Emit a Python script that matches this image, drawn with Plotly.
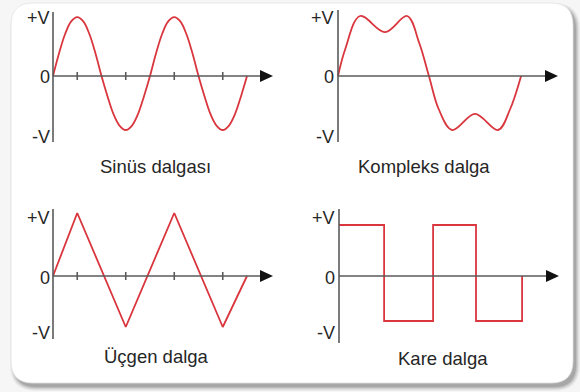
import plotly.graph_objects as go

# ---- waveform data (time in quarter-periods of the sine, voltage in units of V) ----
sine_t = [0, 0.25, 0.5, 0.75, 1, 1.25, 1.5, 1.75, 2, 2.25, 2.5, 2.75, 3, 3.25, 3.5, 3.75, 4,
          4.25, 4.5, 4.75, 5, 5.25, 5.5, 5.75, 6, 6.25, 6.5, 6.75, 7, 7.25, 7.5, 7.75, 8]
sine_v = [0, 0.38, 0.70, 0.91, 0.98, 0.91, 0.70, 0.38, 0, -0.34, -0.64, -0.83, -0.90, -0.83, -0.64, -0.34, 0,
          0.38, 0.70, 0.91, 0.98, 0.91, 0.70, 0.38, 0, -0.34, -0.64, -0.83, -0.90, -0.83, -0.64, -0.34, 0]

complex_t = [0, 0.3, 0.91, 1.94, 2.85, 3.35, 3.75, 4.15, 4.7, 5.65, 6.6, 7.1, 7.55]
complex_v = [0, 0.45, 1.0, 0.73, 1.0, 0.55, 0, -0.55, -0.9, -0.63, -0.9, -0.55, 0]

triangle_t = [0, 1, 3, 5, 7, 8]
triangle_v = [0, 1.05, -0.85, 1.05, -0.85, 0]

square_t = [0, 1.86, 3.88, 5.65, 7.55]
square_v = [0.85, -0.75, 0.85, -0.75, 0]

tick_t = [1, 3, 5, 7]
level_labels = ["+V", "0", "-V"]
titles = ["Sinüs dalgası", "Kompleks dalga", "Üçgen dalga", "Kare dalga"]

# ---- page geometry ----
W, H = 580, 392
Q = 24.25   # pixels per time unit
U = 60.0    # pixels per V

def X(px):
    return px / W

def Y(py):
    return 1 - py / H

RED = "#d9363e"
AXIS = "#5a5a5a"
TEXT = "#262626"
FONT = "Liberation Sans, Arial, sans-serif"

# panel layout: y-axis x pixel, zero-line y pixel, horizontal box, vertical box,
# vertical-axis extent (top, bottom px), label y pixels, title centre
panels = [
    dict(ax=53, zero=76, xb=(30, 290), yb=(4, 152), vext=(12, 142), lab_x=52,
         lab_y=(18, 77, 137), title=(155, 166)),
    dict(ax=338, zero=76, xb=(315, 575), yb=(4, 152), vext=(10, 142), lab_x=336,
         lab_y=(18, 77, 137), title=(424, 166)),
    dict(ax=53, zero=276, xb=(30, 290), yb=(200, 352), vext=(209, 339), lab_x=52,
         lab_y=(218, 278, 333), title=(156, 356)),
    dict(ax=339, zero=276, xb=(315, 575), yb=(200, 352), vext=(209, 343), lab_x=337,
         lab_y=(218, 278, 333), title=(443, 358)),
]

series = [
    (sine_t, sine_v, "spline"),
    (complex_t, complex_v, "spline"),
    (triangle_t, triangle_v, "linear"),
    (square_t, square_v, "hv"),
]
with_ticks = [True, False, True, False]

fig = go.Figure()
shapes = []
annotations = []
layout_axes = {}

# card background with soft drop shadow
def rounded(x0, y0, x1, y1, r):
    return (f"M {X(x0 + r)},{Y(y0)} L {X(x1 - r)},{Y(y0)} Q {X(x1)},{Y(y0)} {X(x1)},{Y(y0 + r)} "
            f"L {X(x1)},{Y(y1 - r)} Q {X(x1)},{Y(y1)} {X(x1 - r)},{Y(y1)} "
            f"L {X(x0 + r)},{Y(y1)} Q {X(x0)},{Y(y1)} {X(x0)},{Y(y1 - r)} "
            f"L {X(x0)},{Y(y0 + r)} Q {X(x0)},{Y(y0)} {X(x0 + r)},{Y(y0)} Z")

for grow, op in [(4, 0.05), (3, 0.07), (2, 0.09), (1, 0.12), (0, 0.16)]:
    shapes.append(dict(type="path", xref="paper", yref="paper", layer="below",
                       path=rounded(11 + 3 - grow, 3 + 4 - grow, 573 + 3 + grow, 383 + 4 + grow, 22 + grow),
                       fillcolor=f"rgba(60,60,60,{op})", line=dict(width=0)))
shapes.append(dict(type="path", xref="paper", yref="paper", layer="below",
                   path=rounded(11, 3, 573, 383, 22),
                   fillcolor="#ffffff", line=dict(color="#e2e2e2", width=0.8)))

tip = (273 - 53) / Q
base = (260 - 53) / Q

for k, (p, (tt, vv, shape), ticks) in enumerate(zip(panels, series, with_ticks)):
    n = "" if k == 0 else str(k + 1)
    xa, ya = "x" + n, "y" + n
    layout_axes["xaxis" + n] = dict(
        domain=[X(p["xb"][0]), X(p["xb"][1])],
        range=[(p["xb"][0] - p["ax"]) / Q, (p["xb"][1] - p["ax"]) / Q],
        visible=False, fixedrange=True, anchor=ya)
    layout_axes["yaxis" + n] = dict(
        domain=[Y(p["yb"][1]), Y(p["yb"][0])],
        range=[(p["zero"] - p["yb"][1]) / U, (p["zero"] - p["yb"][0]) / U],
        visible=False, fixedrange=True, anchor=xa)

    # horizontal axis with arrow
    shapes.append(dict(type="line", xref=xa, yref=ya, x0=0, x1=base + 0.1, y0=0, y1=0,
                       line=dict(color=AXIS, width=1.6)))
    shapes.append(dict(type="path", xref=xa, yref=ya,
                       path=f"M {base},{6 / U} L {tip},0 L {base},{-6 / U} Z",
                       fillcolor="#111111", line=dict(width=0)))
    # vertical axis
    top, bot = p["vext"]
    shapes.append(dict(type="line", xref=xa, yref=ya, x0=0, x1=0,
                       y0=(p["zero"] - top) / U, y1=(p["zero"] - bot) / U,
                       line=dict(color=AXIS, width=1.6)))
    if ticks:
        for t in tick_t:
            shapes.append(dict(type="line", xref=xa, yref=ya, x0=t, x1=t,
                               y0=-4 / U, y1=4 / U, line=dict(color=AXIS, width=1.6)))

    fig.add_trace(go.Scatter(x=tt, y=vv, mode="lines", xaxis=xa, yaxis=ya,
                             line=dict(color=RED, width=1.8, shape=shape, smoothing=1.0),
                             hoverinfo="skip", showlegend=False))

    for lab, ly in zip(level_labels, p["lab_y"]):
        annotations.append(dict(text=lab, xref="paper", yref="paper", x=X(p["lab_x"]), y=Y(ly),
                                xanchor="right", yanchor="middle", showarrow=False,
                                font=dict(family=FONT, size=18, color=TEXT)))
    annotations.append(dict(text=titles[k], xref="paper", yref="paper",
                            x=X(p["title"][0]), y=Y(p["title"][1]),
                            xanchor="center", yanchor="middle", showarrow=False,
                            font=dict(family=FONT, size=18.5, color=TEXT)))

fig.update_layout(
    width=W, height=H, margin=dict(l=0, r=0, t=0, b=0),
    paper_bgcolor="#f6f6f6", plot_bgcolor="rgba(0,0,0,0)",
    shapes=shapes, annotations=annotations, showlegend=False,
    **layout_axes,
)

fig.write_html("out.html", config={"displayModeBar": False})
